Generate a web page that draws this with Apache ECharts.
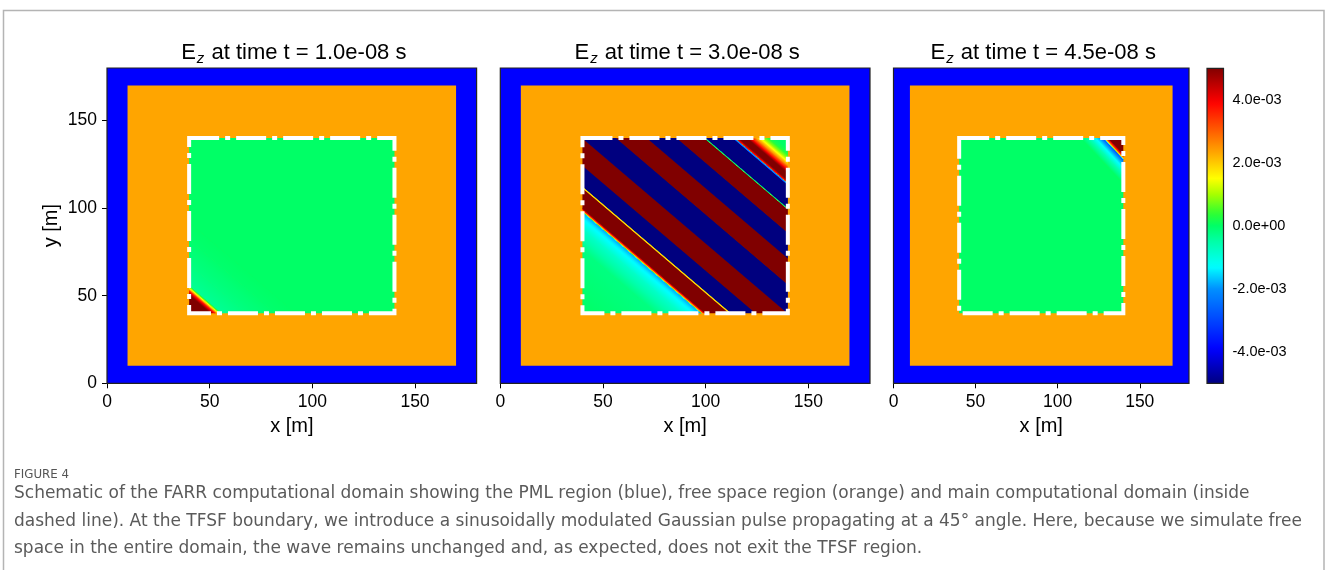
<!DOCTYPE html>
<html><head><meta charset="utf-8">
<script src="https://cdn.jsdelivr.net/npm/echarts@6/dist/echarts.min.js"></script>
<style>html,body{margin:0;padding:0;background:#fff}#c{width:1327px;height:570px}</style>
</head><body><div id="c"></div>
<script>
// ---------------- data ----------------
const xTicks = [0, 50, 100, 150];
const yTicks = [0, 50, 100, 150];
const axisRange = [0, 180];
const pmlBox = [0, 180, 0, 180];     // PML region (blue)  [x0,x1,y0,y1]
const freeBox = [10, 170, 10, 170];  // free space region (orange)
const tfsfBox = [40, 140, 40, 140];  // TFSF region (dashed line)
const times = ['1.0e-08', '3.0e-08', '4.5e-08'];
const cbRange = [-0.005, 0.005];
const cbTicks = [-0.004, -0.002, 0, 0.002, 0.004];
// Ez profile across the wavefront, s = x + y  ->  [s, Ez]
const profile1 = [[80, 5e-3], [90.5, 5e-3], [92.5, 3.8e-3], [94, 2e-3], [95.2, 0.6e-3], [96.2, -0.35e-3],
  [108, -0.2e-3], [122, -0.05e-3], [132, 0], [280, 0]];
const profile2 = [[80, 0], [116, -0.2e-3], [128, -0.8e-3], [135, -1.4e-3], [137.5, -1.8e-3], [138.3, 2.2e-3],
  [139.3, 4e-3], [140, 5e-3],
  [151.4, 5e-3], [151.6, 1.8e-3], [152.4, 1.8e-3], [152.6, -5e-3],
  [164.5, -5e-3], [164.5, 5e-3],
  [180, 5e-3], [180, -5e-3],
  [196.5, -5e-3], [196.5, 5e-3],
  [211.5, 5e-3], [211.5, -5e-3],
  [226, -5e-3], [226, 5e-3],
  [239.2, 5e-3], [239.4, 0], [240, 0], [240.2, -5e-3],
  [253, -5e-3], [253.4, -2.4e-3], [254, -2e-3], [254.4, 3.8e-3], [256, 5e-3],
  [260, 5e-3], [262.5, 3.5e-3], [264.5, 2.4e-3], [266.5, 1.5e-3], [268.5, 0.8e-3], [271, 0.2e-3], [274, 0], [280, 0]];
const profile3 = [[80, 0], [254, 0], [259, -0.6e-3], [263, -1.3e-3], [266, -2e-3], [267.6, -2.7e-3],
  [268.4, 1.8e-3], [269.6, 3.6e-3], [271, 5e-3], [280, 5e-3]];
const profiles = [profile1, profile2, profile3];
const captionHead = 'FIGURE 4';
const captionLines = [
  'Schematic of the FARR computational domain showing the PML region (blue), free space region (orange) and main computational domain (inside',
  'dashed line). At the TFSF boundary, we introduce a sinusoidally modulated Gaussian pulse propagating at a 45° angle. Here, because we simulate free',
  'space in the entire domain, the wave remains unchanged and, as expected, does not exit the TFSF region.'
];

// ---------------- styles ----------------
const FONT = '"Liberation Sans", Arial, Helvetica, sans-serif';
const regionColors = ['#0000ff', '#ffa500'];
const JET = [
  [0.00, '#00007f'], [0.11, '#0000ff'], [0.30, '#0090ff'], [0.37, '#00ffff'], [0.45, '#00ffa8'],
  [0.50, '#00ff66'], [0.54, '#30ff30'], [0.60, '#a8ff00'], [0.65, '#ffff00'], [0.73, '#ffa800'],
  [0.89, '#ff0000'], [1.00, '#800000']
];
function hex2rgb(h) { return [parseInt(h.substr(1, 2), 16), parseInt(h.substr(3, 2), 16), parseInt(h.substr(5, 2), 16)]; }
const JETRGB = JET.map(s => [s[0], hex2rgb(s[1])]);
function jet(v) {
  let t = (v - cbRange[0]) / (cbRange[1] - cbRange[0]);
  t = Math.max(0, Math.min(1, t));
  for (let i = 1; i < JETRGB.length; i++) {
    if (t <= JETRGB[i][0]) {
      const a = JETRGB[i - 1], b = JETRGB[i];
      const f = (t - a[0]) / (b[0] - a[0] || 1);
      const c = a[1].map((x, k) => Math.round(x + (b[1][k] - x) * f));
      return 'rgb(' + c.join(',') + ')';
    }
  }
  return JET[JET.length - 1][1];
}
function fmtExp(v) {
  let s = v.toExponential(1);
  return s.replace(/e([+-])(\d)$/, 'e$10$2');
}
function clipPoly(poly, f) {
  const out = [];
  for (let i = 0; i < poly.length; i++) {
    const a = poly[i], b = poly[(i + 1) % poly.length];
    const fa = f(a), fb = f(b);
    if (fa >= 0) out.push(a);
    if ((fa >= 0) !== (fb >= 0)) {
      const t = fa / (fa - fb);
      out.push([a[0] + t * (b[0] - a[0]), a[1] + t * (b[1] - a[1])]);
    }
  }
  return out;
}

const panelLayout = [
  { left: 107, width: 369.6 },
  { left: 500.3, width: 369.7 },
  { left: 893.5, width: 295.5 }
];
const gridTop = 68, gridHeight = 315.3;

const grids = [], xAxes = [], yAxes = [], series = [], titles = [];
panelLayout.forEach((p, i) => {
  grids.push({ left: p.left, width: p.width, top: gridTop, height: gridHeight, containLabel: false });
  xAxes.push({
    type: 'value', gridIndex: i, min: axisRange[0], max: axisRange[1],
    name: 'x [m]', nameLocation: 'middle', nameGap: 31,
    nameTextStyle: { fontSize: 20, fontFamily: FONT, color: '#000' },
    axisLine: { show: false }, splitLine: { show: false },
    axisTick: { show: true, customValues: xTicks, length: 5, lineStyle: { color: '#000' } },
    axisLabel: { customValues: xTicks, fontSize: 17.5, fontFamily: FONT, color: '#000', margin: 10 }
  });
  yAxes.push({
    type: 'value', gridIndex: i, min: axisRange[0], max: axisRange[1],
    name: i === 0 ? 'y [m]' : '', nameLocation: 'middle', nameGap: 46,
    nameTextStyle: { fontSize: 20, fontFamily: FONT, color: '#000' },
    axisLine: { show: false }, splitLine: { show: false },
    axisTick: { show: i === 0, customValues: yTicks, length: 5, lineStyle: { color: '#000' } },
    axisLabel: { show: i === 0, customValues: yTicks, fontSize: 17.5, fontFamily: FONT, color: '#000', margin: 10 }
  });
  titles.push({
    text: '{m|E}{s|z}{m| at time t = ' + times[i] + ' s}',
    left: p.left + p.width / 2 - 3, textAlign: 'center', top: 35,
    textStyle: {
      fontWeight: 'normal',
      rich: {
        m: { fontSize: 22, fontFamily: FONT, fontWeight: 'normal', color: '#000', lineHeight: 26 },
        s: { fontSize: 15, fontFamily: FONT, fontWeight: 'normal', fontStyle: 'italic', color: '#000', padding: [11, 1, 0, 1], verticalAlign: 'top' }
      }
    }
  });
  // PML + free-space regions
  series.push({
    type: 'custom', xAxisIndex: i, yAxisIndex: i, z: 1, silent: true,
    data: [pmlBox.concat([0]), freeBox.concat([1])],
    renderItem: (params, api) => {
      const a = api.coord([api.value(0), api.value(3)]);
      const b = api.coord([api.value(1), api.value(2)]);
      return { type: 'rect', shape: { x: a[0], y: a[1], width: b[0] - a[0], height: b[1] - a[1] },
        style: { fill: regionColors[api.value(4)] } };
    }
  });
  // field bands
  const prof = profiles[i];
  const bands = [];
  for (let k = 0; k < prof.length - 1; k++) {
    if (prof[k + 1][0] > prof[k][0]) bands.push([prof[k][0], prof[k][1], prof[k + 1][0], prof[k + 1][1]]);
  }
  series.push({
    type: 'custom', xAxisIndex: i, yAxisIndex: i, z: 2, silent: true,
    data: bands,
    renderItem: (params, api) => {
      const s0 = api.value(0), v0 = api.value(1), s1 = api.value(2), v1 = api.value(3);
      const [bx0, bx1, by0, by1] = tfsfBox;
      const e = 0.25;
      let poly = [[bx0, by0], [bx1, by0], [bx1, by1], [bx0, by1]];
      poly = clipPoly(poly, q => q[0] + q[1] - (s0 - e));
      poly = clipPoly(poly, q => (s1 + e) - (q[0] + q[1]));
      if (poly.length < 3) return null;
      const pts = poly.map(q => api.coord(q));
      let fill;
      if (v0 === v1) fill = jet(v0);
      else {
        const o = api.coord([0, 0]), ox = api.coord([1, 0]), oy = api.coord([0, 1]);
        const kx = ox[0] - o[0], ky = o[1] - oy[1];
        const L = Math.hypot(kx, ky);
        const n = [ky / L, -kx / L];
        const P0 = api.coord([s0 / 2, s0 / 2]), Q = api.coord([s1 / 2, s1 / 2]);
        const pr = (Q[0] - P0[0]) * n[0] + (Q[1] - P0[1]) * n[1];
        const stops = [];
        for (let j = 0; j <= 10; j++) stops.push({ offset: j / 10, color: jet(v0 + (v1 - v0) * j / 10) });
        fill = { type: 'linear', x: P0[0], y: P0[1], x2: P0[0] + n[0] * pr, y2: P0[1] + n[1] * pr, global: true, colorStops: stops };
      }
      return { type: 'polygon', shape: { points: pts }, style: { fill: fill } };
    }
  });
  // dashed TFSF boundary
  series.push({
    type: 'custom', xAxisIndex: i, yAxisIndex: i, z: 3, silent: true,
    data: [tfsfBox],
    renderItem: (params, api) => {
      const a = api.coord([api.value(0), api.value(3)]);
      const b = api.coord([api.value(1), api.value(2)]);
      return { type: 'rect', shape: { x: a[0], y: a[1], width: b[0] - a[0], height: b[1] - a[1] },
        style: { fill: 'none', stroke: '#fff', lineWidth: 4, lineDash: [30, 6, 5, 6], lineCap: 'butt' } };
    }
  });
  // frame
  series.push({
    type: 'custom', xAxisIndex: i, yAxisIndex: i, z: 4, silent: true,
    data: [[axisRange[0], axisRange[1], axisRange[0], axisRange[1]]],
    renderItem: (params, api) => {
      const a = api.coord([api.value(0), api.value(3)]);
      const b = api.coord([api.value(1), api.value(2)]);
      return { type: 'rect', shape: { x: a[0], y: a[1], width: b[0] - a[0], height: b[1] - a[1] },
        style: { fill: 'none', stroke: '#222', lineWidth: 1.2 } };
    }
  });
});

// colorbar
grids.push({ left: 1207, width: 16.5, top: 68.3, height: 315 });
xAxes.push({ type: 'value', gridIndex: 3, min: 0, max: 1, show: false });
yAxes.push({
  type: 'value', gridIndex: 3, min: cbRange[0], max: cbRange[1], position: 'right',
  axisLine: { show: false }, splitLine: { show: false },
  axisTick: { show: true, customValues: cbTicks, length: 4, lineStyle: { color: '#000' } },
  axisLabel: { customValues: cbTicks, formatter: v => fmtExp(v), fontSize: 14.5, fontFamily: FONT, color: '#000', margin: 9 }
});
series.push({
  type: 'custom', xAxisIndex: 3, yAxisIndex: 3, z: 2, silent: true,
  data: [[0, 1, cbRange[0], cbRange[1]]],
  renderItem: (params, api) => {
    const a = api.coord([api.value(0), api.value(3)]);
    const b = api.coord([api.value(1), api.value(2)]);
    const stops = [];
    for (let j = 0; j <= 60; j++) stops.push({ offset: j / 60, color: jet(cbRange[1] - (cbRange[1] - cbRange[0]) * j / 60) });
    return { type: 'rect', shape: { x: a[0], y: a[1], width: b[0] - a[0], height: b[1] - a[1] },
      style: { fill: { type: 'linear', x: 0, y: 0, x2: 0, y2: 1, colorStops: stops }, stroke: '#222', lineWidth: 1.2 } };
  }
});

const CAPFONT = '"DejaVu Sans", "Open Sans", sans-serif';
const graphics = [
  { type: 'rect', shape: { x: 3.5, y: 10.5, width: 1320.5, height: 620 }, style: { fill: 'none', stroke: '#b4b4b4', lineWidth: 1.5 }, silent: true },
  { type: 'text', left: 14, top: 469, style: { text: captionHead, font: '11.8px ' + CAPFONT, fill: '#555' } }
];
captionLines.forEach((t, k) => {
  graphics.push({ type: 'text', left: 14, top: 485.5 + k * 27.3, style: { text: t, font: '17px ' + CAPFONT, fill: '#5a5a5a' } });
});

const chart = echarts.init(document.getElementById('c'), null, { renderer: 'canvas' });
chart.setOption({
  animation: false,
  backgroundColor: '#fff',
  title: titles,
  grid: grids,
  xAxis: xAxes,
  yAxis: yAxes,
  series: series,
  graphic: graphics
});
</script>
</body></html>
